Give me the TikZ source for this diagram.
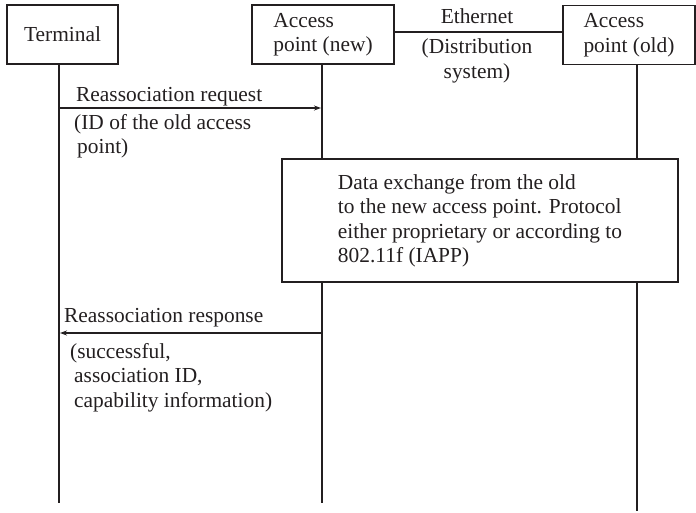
\documentclass[tikz,border=0pt]{standalone}
\usepackage{fontspec}
\setmainfont{Liberation Serif}
\usetikzlibrary{arrows.meta}
\definecolor{ink}{RGB}{35,31,32}
\tikzset{
  txt/.style={font=\fontsize{21.4}{24.5}\selectfont, text=ink},
  lbl/.style={txt, inner sep=0pt, align=left, anchor=north west},
  box/.style={draw=ink, line width=1.6pt, txt, align=left, minimum height=59pt, inner sep=0pt},
  life/.style={draw=ink, line width=2.2pt},
  msg/.style={draw=ink, line width=1.3pt, -{Stealth[length=7pt,width=5pt]}},
  eth/.style={draw=ink, line width=2.3pt}
}
\begin{document}
\begin{tikzpicture}[x=1pt,y=-1pt]
\useasboundingbox (0,0) rectangle (696,513);
% header boxes
\node[box, minimum width=111pt] (term) at (62.5,34.5) {Terminal};
\node[box, minimum width=142pt] (apn) at (323,34.5) {Access\\point (new)};
\node[box, minimum width=132pt] (apo) at (629,35) {Access\\point (old)};
% ethernet link
\draw[eth] (apn.east |- 0,32) coordinate (e1) -- (apo.west |- 0,32) coordinate (e2);
\node[txt, inner sep=0pt] (ethl) at (477,16) {Ethernet};
\node[txt, inner sep=0pt, align=center] (dsl) at (477,61) {(Distribution\\system)};
% lifelines
\coordinate (tend) at (59,503);
\coordinate (nend) at (322,503);
\coordinate (oend) at (637,511);
\draw[life] (term.south -| tend) -- (tend);
\draw[life] (apn.south -| nend) -- (nend);
\draw[life] (apo.south -| oend) -- (oend);
% request
\coordinate (rq1) at (59,108);
\coordinate (rq2) at (321,108);
\draw[msg] (rq1) -- (rq2);
\node[lbl] (rql) at (76,87) {Reassociation request};
\node[lbl] (rqs) at (74,114) {(ID of the old access\\\hspace*{3pt}point)};
% data exchange box
\node[draw=ink, line width=1.6pt, fill=white, minimum width=396pt, minimum height=123pt, txt, align=left, inner sep=0pt] (dx) at (480,220.5)
  {Data exchange from the old\\to the new access point. Protocol\\either proprietary or according to\\802.11f (IAPP)};
% response
\coordinate (rs1) at (322,333);
\coordinate (rs2) at (60,333);
\draw[msg] (rs1) -- (rs2);
\node[lbl] (rsl) at (64,308) {Reassociation response};
\node[lbl] (rss) at (70,343) {(successful,\\\hspace*{4pt}association ID,\\\hspace*{4pt}capability information)};
\end{tikzpicture}
\end{document}
